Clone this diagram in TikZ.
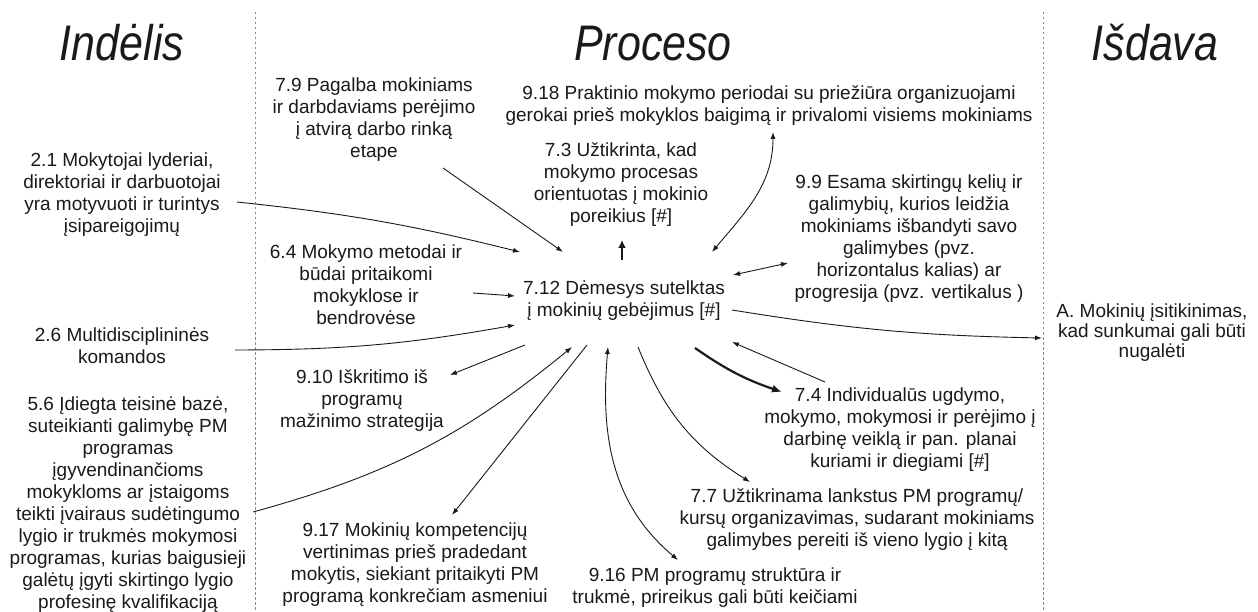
\documentclass[tikz,border=0pt]{standalone}
\usepackage{fontspec}
\setmainfont{Liberation Sans}
\usetikzlibrary{arrows.meta}
\definecolor{ink}{HTML}{1A1A1A}
\definecolor{rule}{HTML}{8A8A8A}
\begin{document}
\begin{tikzpicture}[x=1pt,y=-1pt,
  txt/.style={align=center, inner sep=0pt, text=ink, font=\fontsize{19}{22}\selectfont},
  head/.style={anchor=base, inner sep=0pt, text=ink, font=\fontsize{50}{50}\selectfont\itshape},
  divider/.style={draw=rule, line width=1pt, dash pattern=on 2.5pt off 2.5pt},
  con/.style={draw=ink, line width=0.9pt, -{Latex[length=7pt,width=5pt]}},
  dcon/.style={draw=ink, line width=0.9pt, {Latex[length=7pt,width=5pt]}-{Latex[length=7pt,width=5pt]}},
  heavy/.style={draw=ink, line width=2.2pt, -{Latex[length=10pt,width=8pt]}},
  short/.style={draw=ink, line width=2.2pt, -{Latex[length=8pt,width=8pt]}}]
\useasboundingbox (0,0) rectangle (1258,612);
\fill[white] (0,0) rectangle (1258,612);

% column rules
\draw[divider] (255,12) -- (255,612);
\draw[divider] (1043,12) -- (1043,612);

% column headings
\node[head] (hIn)  at (122,61)  {\scalebox{0.86}[1]{Indėlis}};
\node[head] (hPro) at (653,61)  {\scalebox{0.86}[1]{Proceso}};
\node[head] (hOut) at (1155,61) {\scalebox{0.86}[1]{Išdava}};

% central item
\node[txt] (hub) at (624,301) {7.12 Dėmesys sutelktas\\į mokinių gebėjimus [\#]};

% inputs
\node[txt] (n21) at (122,195) {2.1 Mokytojai lyderiai,\\direktoriai ir darbuotojai\\yra motyvuoti ir turintys\\įsipareigojimų};
\node[txt] (n26) at (122,346) {2.6 Multidisciplininės\\komandos};
\node[txt] (n56) at (128,505) {5.6 Įdiegta teisinė bazė,\\suteikianti galimybę PM\\programas\\įgyvendinančioms\\mokykloms ar įstaigoms\\teikti įvairaus sudėtingumo\\lygio ir trukmės mokymosi\\programas, kurias baigusieji\\galėtų įgyti skirtingo lygio\\profesinę kvalifikaciją};

% process items
\node[txt] (n79)  at (374,120) {7.9 Pagalba mokiniams\\ir darbdaviams perėjimo\\į atvirą darbo rinką\\etape};
\node[txt] (n918) at (769,106) {9.18 Praktinio mokymo periodai su priežiūra organizuojami\\gerokai prieš mokyklos baigimą ir privalomi visiems mokiniams};
\node[txt] (n73)  at (621,185) {7.3 Užtikrinta, kad\\mokymo procesas\\orientuotas į mokinio\\poreikius [\#]};
\node[txt] (n99)  at (909,239) {9.9 Esama skirtingų kelių ir\\galimybių, kurios leidžia\\mokiniams išbandyti savo\\galimybes (pvz.\\horizontalus kalias) ar\\progresija (pvz. vertikalus )};
\node[txt] (n64)  at (366,285) {6.4 Mokymo metodai ir\\būdai pritaikomi\\mokyklose ir\\bendrovėse};
\node[txt] (n910) at (362,401) {9.10 Iškritimo iš\\programų\\mažinimo strategija};
\node[txt] (n917) at (415,565) {9.17 Mokinių kompetencijų\\vertinimas prieš pradedant\\mokytis, siekiant pritaikyti PM\\programą konkrečiam asmeniui};
\node[txt] (n916) at (715,588) {9.16 PM programų struktūra ir\\trukmė, prireikus gali būti keičiami};
\node[txt] (n74)  at (900,430) {7.4 Individualūs ugdymo,\\mokymo, mokymosi ir perėjimo į\\darbinę veiklą ir pan. planai\\kuriami ir diegiami [\#]};
\node[txt] (n77)  at (857,520) {7.7 Užtikrinama lankstus PM programų/\\kursų organizavimas, sudarant mokiniams\\galimybes pereiti iš vieno lygio į kitą};

% output
\node[txt, font=\fontsize{19}{20}\selectfont] (nA) at (1152,333) {A. Mokinių įsitikinimas,\\kad sunkumai gali būti\\nugalėti};

% connectors into the central item
\draw[con] ([shift={(115,7)}]n21.center) to[bend left=4] ([shift={(-104,-49)}]hub.center);
\draw[con] ([shift={(69,48)}]n79.center) -- ([shift={(-61,-49)}]hub.center);
\draw[con] ([shift={(107,8)}]n64.center) -- ([shift={(-109,-5)}]hub.center);
\draw[con] ([shift={(113,4)}]n26.center) to[bend right=5] ([shift={(-109,24)}]hub.center);
\draw[con] ([shift={(125,7)}]n56.center) to[bend right=12] ([shift={(-52,46)}]hub.center);
\draw[con] ([shift={(-75,-48)}]n74.center) -- ([shift={(108,41)}]hub.center);

% connectors out of the central item
\draw[short] ([shift={(-2,-41)}]hub.center) -- ([shift={(1,55)}]n73.center);
\draw[con] ([shift={(-99,44)}]hub.center) -- ([shift={(88,-26)}]n910.center);
\draw[con] ([shift={(-37,44)}]hub.center) -- ([shift={(37,-50)}]n917.center);
\draw[con] ([shift={(14,46)}]hub.center) to[out=-68,in=148] ([shift={(-107,-38)}]n77.center);
\draw[heavy] ([shift={(71,47)}]hub.center) to[bend right=8] ([shift={(-118,-38)}]n74.center);
\draw[con] ([shift={(108,9)}]hub.center) to[bend right=4] ([shift={(-110,5)}]nA.center);

% two-way links
\draw[dcon] ([shift={(88,-49)}]hub.center) to[out=50,in=-90] ([shift={(4,26)}]n918.center);
\draw[dcon] ([shift={(109,-26)}]hub.center) -- ([shift={(-121,24)}]n99.center);
\draw[dcon] ([shift={(-16,46)}]hub.center) to[out=-95,in=140] ([shift={(-37,-28)}]n916.center);
\end{tikzpicture}
\end{document}
